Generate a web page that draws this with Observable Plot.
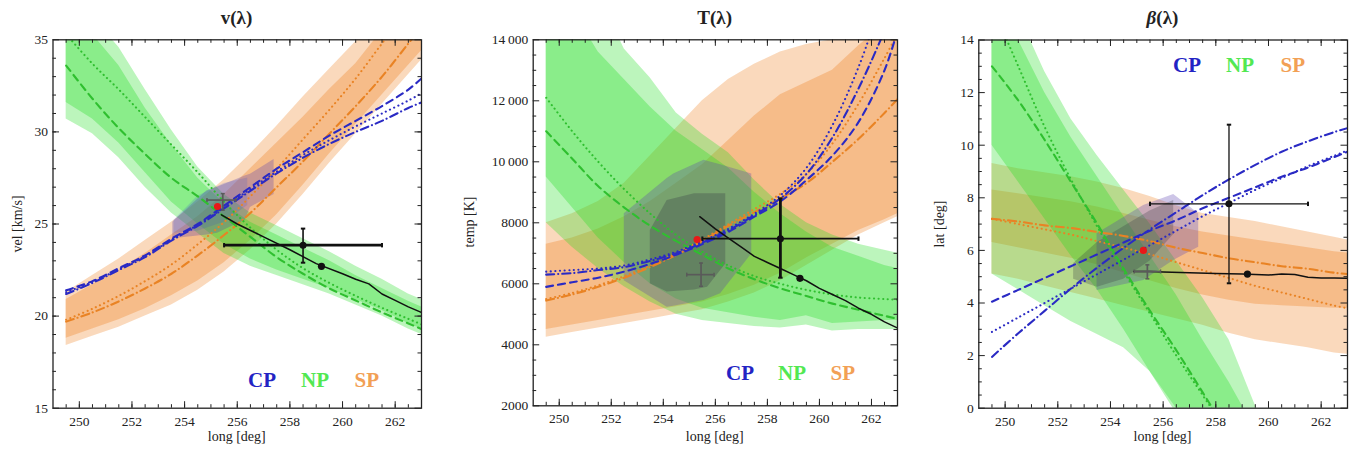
<!DOCTYPE html>
<html><head><meta charset="utf-8">
<script src="https://cdn.jsdelivr.net/npm/d3@7"></script>
<script src="https://cdn.jsdelivr.net/npm/@observablehq/plot@0.6"></script>
<style>
body{margin:0;background:#fff;}
#root{position:relative;width:1362px;height:462px;overflow:hidden;font-family:"Liberation Serif","Times New Roman",Tinos,"DejaVu Serif","Noto Serif",serif;color:#222;background:#fff;}
.panel{position:absolute;top:0;}
.t{position:absolute;white-space:nowrap;text-align:center;}
.title{font-weight:bold;font-size:19px;line-height:24px;top:5px;}
.xl{font-size:14px;line-height:18px;}
.yl{font-size:14px;line-height:18px;transform:rotate(-90deg);}
.lg{font-weight:bold;font-size:21px;line-height:24px;}
</style></head><body><div id="root"></div>
<script>
// ---------- shared x grid and ticks ----------
const longGrid = [249.5,250.5,251.5,252.5,253.5,254.5,255.5,256.5,257.5,258.5,259.5,260.5,261.5,262.5,263];
const longMajorTicks = [250,252,254,256,258,260,262];
const longMinorTicks = [249.5,250,250.5,251,251.5,252,252.5,253,253.5,254,254.5,255,255.5,256,256.5,257,257.5,258,258.5,259,259.5,260,260.5,261,261.5,262,262.5];

// ---------- v(lambda) ----------
const vMajorTicks = [15,20,25,30,35];
const vMinorTicks = [16,17,18,19,20,21,22,23,24,25,26,27,28,29,30,31,32,33,34];
const vSPOuterLo = [18.4,18.9,19.4,20.0,20.6,21.4,22.4,23.6,25.0,26.6,28.3,29.9,31.5,33.1,33.9];
const vSPOuterHi = [21.3,22.2,23.1,24.1,25.1,26.2,27.4,28.8,30.3,31.9,33.4,34.9,36.5,38.0,39.0];
const vSPInnerLo = [18.8,19.3,19.8,20.4,21.1,21.9,22.9,24.1,25.5,27.1,28.8,30.4,32.0,33.6,34.4];
const vSPInnerHi = [20.9,21.7,22.5,23.4,24.4,25.4,26.6,28.0,29.4,30.8,32.3,33.7,35.5,37.0,38.0];
const vNPOuterLo = [30.7,29.9,28.6,27.0,25.6,24.5,23.4,22.7,22.2,21.7,21.2,20.6,20.0,19.3,19.0];
const vNPOuterHi = [37.5,36.2,34.6,32.3,30.1,28.1,26.6,25.6,24.9,24.2,23.5,22.7,22.0,21.2,20.9];
const vNPInnerLo = [31.6,30.7,29.4,27.8,26.2,25.0,23.9,23.1,22.5,22.0,21.5,20.9,20.3,19.6,19.3];
const vNPInnerHi = [36.8,35.3,33.6,31.3,29.3,27.5,26.1,25.1,24.4,23.7,23.0,22.2,21.5,20.8,20.5];
const vCPDash    = [21.4,21.9,22.6,23.3,24.2,25.0,26.0,27.0,28.0,28.9,29.8,30.6,31.4,32.3,32.9];
const vCPDot     = [21.3,21.85,22.55,23.25,24.15,24.95,25.9,26.9,27.85,28.75,29.55,30.3,31.0,31.7,32.1];
const vCPDotDash = [21.2,21.8,22.5,23.2,24.1,24.9,25.85,26.8,27.75,28.6,29.35,30.0,30.6,31.3,31.6];
const vNPDash    = [33.6,31.8,30.2,28.8,27.5,26.5,25.4,24.3,23.2,22.3,21.5,20.85,20.2,19.6,19.3];
const vNPDot     = [35.3,33.7,32.3,30.8,29.3,27.8,26.2,24.8,23.6,22.6,21.8,21.1,20.45,19.85,19.55];
const vSPDotDash = [19.7,20.2,20.8,21.5,22.3,23.3,24.4,25.6,27.0,28.4,29.9,31.4,33.0,34.8,35.7];
const vSPDot     = [19.8,20.4,21.1,21.9,22.8,23.9,25.1,26.5,28.0,29.6,31.2,32.9,34.8,36.7,37.7];
const vCPRegionX  = [253.55,254.85,255.25,256.3,256.5,257.4];
const vCPRegionLo = [24.2,24.4,24.5,25.2,25.9,26.6];
const vCPRegionHi = [25.1,26.8,27.0,27.6,27.7,28.5];
const vCPCoreX  = [253.6,254.5,255.5,256.4];
const vCPCoreLo = [24.5,24.6,25.1,26.0];
const vCPCoreHi = [25.2,26.5,27.2,27.5];
const vBlackX = [255.4,256,257,258,259,260,260.5,261,261.5,262,262.5,263];
const vBlackY = [25.5,25.0,24.3,23.6,22.85,22.3,22.0,21.75,21.2,20.85,20.5,20.2];
const vError = {x:258.5, y:23.85, xlo:255.5, xhi:261.5, ylo:22.9, yhi:24.75};
const vCross = {x:255.45, y:26.3, xlo:254.85, xhi:255.95, ylo:25.75, yhi:26.65};
const vRed = {x:255.25, y:25.95};
const vDot = {x:259.2, y:22.7};

// ---------- T(lambda) ----------
const tMajorTicks = [2000,4000,6000,8000,10000,12000,14000];
const tMinorTicks = [2500,3000,3500,4500,5000,5500,6500,7000,7500,8500,9000,9500,10500,11000,11500,12500,13000,13500];
const tSPOuterLo = [4250,4400,4550,4700,4850,5000,5150,5400,5700,6100,6600,7100,7600,8000,8200];
const tSPOuterHi = [8000,8300,8700,9300,10200,11100,12000,12700,13200,13600,13850,14000,14300,14800,15000];
const tSPInnerLo = [4500,4650,4800,4950,5100,5250,5400,5650,5950,6350,6850,7300,7750,8100,8300];
const tSPInnerHi = [7300,7500,7800,8200,8700,9300,9900,10700,11500,12200,12600,13000,13800,14500,15000];
const tNPOuterLo = [8000,7200,6500,5900,5400,5000,4800,4700,4600,4550,4650,4450,4500,4500,4500];
const tNPOuterHi = [16000,16000,15500,13700,12750,11600,10900,10300,9400,8600,8000,7600,7300,7100,7000];
const tNPInnerLo = [9500,8500,7500,6700,6000,5500,5200,5050,4900,4800,4950,4700,4750,4800,4800];
const tNPInnerHi = [15500,15000,13600,12700,11800,11000,10400,9800,9000,8300,7700,7200,6900,6600,6500];
const tCPDash    = [5900,6050,6200,6400,6650,6950,7300,7700,8200,8700,9400,10200,11300,13000,14300];
const tCPDot     = [6400,6450,6500,6600,6800,7050,7400,7800,8300,8900,9800,11200,13100,15500,16500];
const tCPDotDash = [6300,6350,6450,6550,6750,7000,7350,7750,8250,8800,9600,10800,12400,14300,15400];
const tNPDash    = [11000,10100,9200,8500,7900,7400,6950,6500,6150,5850,5600,5350,5150,4950,4850];
const tNPDot     = [12100,11000,10000,9100,8300,7600,7050,6600,6250,6000,5800,5650,5550,5500,5480];
const tSPDotDash = [5450,5650,5900,6200,6550,6950,7400,7900,8350,8800,9300,10000,10750,11600,12050];
const tSPDot     = [5500,5700,5950,6250,6600,7000,7450,7950,8450,8950,9600,10600,11900,13400,14200];
const tCPRegionX  = [252.5,254.15,254.4,255.56,256.2,257.4];
const tCPRegionLo = [6100,5230,5260,5450,5670,6980];
const tCPRegionHi = [8300,9450,9600,10050,9900,9600];
const tCPCoreX  = [253.5,254.15,255.2,255.7,256.4];
const tCPCoreLo = [6000,5730,5800,5890,6650];
const tCPCoreHi = [7750,8730,8950,8950,8950];
const tBlackX = [255.4,256,256.5,257,257.5,258,258.5,259,259.5,260,260.5,261,261.5,262,262.5,263];
const tBlackY = [8200,7800,7500,7200,6900,6700,6500,6300,6100,5850,5650,5450,5200,5000,4750,4550];
const tError = {x:258.5, y:7480, xlo:255.5, xhi:261.5, ylo:6200, yhi:8800};
const tCross = {x:255.45, y:6300, xlo:254.9, xhi:255.95, ylo:5920, yhi:6680};
const tRed = {x:255.3, y:7450};
const tDot = {x:259.25, y:6180};

// ---------- beta(lambda) ----------
const bMajorTicks = [0,2,4,6,8,10,12,14];
const bMinorTicks = [0.5,1,1.5,2.5,3,3.5,4.5,5,5.5,6.5,7,7.5,8.5,9,9.5,10.5,11,11.5,12.5,13,13.5];
const bSPOuterLo = [5.1,4.9,4.65,4.4,4.15,3.9,3.65,3.4,3.15,2.85,2.6,2.45,2.3,2.1,2.05];
const bSPOuterHi = [9.3,9.1,8.95,8.8,8.6,8.35,8.05,7.7,7.4,7.25,7.1,6.9,6.7,6.5,6.4];
const bSPInnerLo = [6.3,6.1,5.9,5.7,5.45,5.15,4.85,4.55,4.3,4.1,3.95,3.9,3.85,3.8,3.8];
const bSPInnerHi = [8.3,8.15,8.0,7.85,7.65,7.4,7.15,6.9,6.7,6.55,6.4,6.25,6.1,5.95,5.9];
const bNPOuterLo = [5.1,4.5,3.9,3.3,2.8,2.3,1.4,0,-1.5,-3,-4.5,-6,-7.5,-9,-10];
const bNPOuterHi = [16,15.0,12.8,11.0,9.6,8.3,7.0,5.6,4.2,2.6,0.1,-2,-4,-6,-7];
const bNPInnerLo = [10.0,8.6,7.2,5.8,4.5,3.0,1.4,-0.2,-2,-3.5,-5,-6.5,-8,-9.5,-10];
const bNPInnerHi = [15.5,14.0,12.0,10.3,8.8,7.3,5.8,4.3,2.6,1.0,-0.8,-3,-5,-7,-8];
const bCPDash    = [4.05,4.5,4.95,5.4,5.85,6.3,6.75,7.15,7.6,8.0,8.4,8.8,9.15,9.55,9.75];
const bCPDot     = [2.9,3.45,4.0,4.55,5.1,5.65,6.2,6.75,7.3,7.8,8.3,8.75,9.2,9.6,9.8];
const bCPDotDash = [1.95,2.85,3.7,4.55,5.35,6.1,6.8,7.45,8.1,8.7,9.25,9.75,10.15,10.5,10.65];
const bNPDash    = [13.0,11.7,10.2,8.6,7.0,5.3,3.7,2.2,0.6,-1.0,-2.6,-4.2,-5.8,-7.4,-8.2];
const bNPDot     = [15.3,13.0,10.7,8.7,6.9,5.2,3.6,2.0,0.5,-1.0,-2.5,-4.0,-5.5,-7.0,-7.8];
const bSPDotDash = [7.2,7.1,6.95,6.85,6.7,6.55,6.35,6.1,5.9,5.7,5.55,5.4,5.3,5.15,5.1];
const bSPDot     = [7.2,7.0,6.8,6.6,6.35,6.1,5.85,5.55,5.25,4.95,4.65,4.4,4.15,3.9,3.8];
const bCPRegionX  = [253.49,255.26,256.4,257.35];
const bCPRegionLo = [4.48,4.86,5.62,6.12];
const bCPRegionHi = [6.63,7.71,8.13,7.39];
const bCPCoreX  = [252.6,253.5,254.5,255.5,256.4];
const bCPCoreLo = [4.9,4.6,4.9,5.6,6.6];
const bCPCoreHi = [5.5,6.3,6.9,7.5,7.9];
const bBlackX = [254.88,255.5,256,257,258,259,259.5,260,260.5,261,261.5,262,262.5,263];
const bBlackY = [5.2,5.2,5.18,5.15,5.12,5.1,5.08,5.06,5.1,5.08,4.98,4.95,4.95,4.94];
const bError = {x:258.5, y:7.77, xlo:255.5, xhi:261.5, ylo:4.75, yhi:10.78};
const bCross = {x:255.4, y:5.2, xlo:254.9, xhi:255.9, ylo:4.92, yhi:5.45};
const bRed = {x:255.25, y:6.0};
const bDot = {x:259.2, y:5.1};

// ---------- styling ----------
const SERIF = "'Liberation Serif', 'Times New Roman', Tinos, 'DejaVu Serif', 'Noto Serif', serif";
const CPc = "#2a2ac4", NPc = "#2fbf2f", SPc = "#e98324";
const NPFill = "#22dd22", SPFill = "#f08020", CPFill = "#5a3fb0";
const dashes = {dash:"7,5", dot:"0.1,4.5", dotdash:"8,4,0.1,4"};

const zip = (xs, ys) => xs.map((x, i) => ({x, y: ys[i]}));
const zipBand = (xs, lo, hi) => xs.map((x, i) => ({x, lo: lo[i], hi: hi[i]}));
const capV = {draw(ctx, size){ const h = Math.sqrt(size/Math.PI); ctx.moveTo(0,-h); ctx.lineTo(0,h); }};
const capH = {draw(ctx, size){ const h = Math.sqrt(size/Math.PI); ctx.moveTo(-h,0); ctx.lineTo(h,0); }};

function panel(c){
  const iw = c.width - c.ml - c.mr, ih = c.height - c.mt - c.mb;
  const marks = [];
  const band = (lo, hi, fill, op, xs = longGrid) =>
    marks.push(Plot.areaY(zipBand(xs, lo, hi), {x:"x", y1:"lo", y2:"hi", fill, fillOpacity:op, clip:true}));
  band(c.SP[0], c.SP[1], SPFill, 0.3);
  band(c.SP[2], c.SP[3], SPFill, 0.32);
  band(c.NP[0], c.NP[1], NPFill, 0.3);
  band(c.NP[2], c.NP[3], NPFill, 0.32);
  band(c.region[1], c.region[2], CPFill, 0.3, c.region[0]);
  band(c.core[1], c.core[2], c.coreFill, c.coreOp, c.core[0]);
  for (const l of c.lines)
    marks.push(Plot.line(zip(longGrid, l[0]), {x:"x", y:"y", stroke:l[1], strokeWidth:2.1,
      strokeDasharray:dashes[l[2]], strokeLinecap:"round", curve:"catmull-rom", clip:true}));
  marks.push(Plot.line(zip(c.black[0], c.black[1]), {x:"x", y:"y", stroke:"#111", strokeWidth:1.5, clip:true}));
  const g = c.cross;
  marks.push(Plot.ruleY([g], {x1:"xlo", x2:"xhi", y:"y", stroke:"#5a5a5a", strokeWidth:1.7}));
  marks.push(Plot.ruleX([g], {x:"x", y1:"ylo", y2:"yhi", stroke:"#5a5a5a", strokeWidth:1.7}));
  marks.push(Plot.dot([{x:g.xlo,y:g.y},{x:g.xhi,y:g.y}], {x:"x", y:"y", symbol:capV, r:2, stroke:"#5a5a5a", fill:"none", strokeWidth:1.5}));
  marks.push(Plot.dot([{x:g.x,y:g.ylo},{x:g.x,y:g.yhi}], {x:"x", y:"y", symbol:capH, r:2, stroke:"#5a5a5a", fill:"none", strokeWidth:1.5}));
  const e = c.err;
  marks.push(Plot.ruleY([e], {x1:"xlo", x2:"xhi", y:"y", stroke:"#111", strokeWidth:c.hw}));
  marks.push(Plot.ruleX([e], {x:"x", y1:"ylo", y2:"yhi", stroke:"#111", strokeWidth:c.vw}));
  marks.push(Plot.dot([{x:e.xlo,y:e.y},{x:e.xhi,y:e.y}], {x:"x", y:"y", symbol:capV, r:2.2, stroke:"#111", fill:"none", strokeWidth:2}));
  marks.push(Plot.dot([{x:e.x,y:e.ylo},{x:e.x,y:e.yhi}], {x:"x", y:"y", symbol:capH, r:2.2, stroke:"#111", fill:"none", strokeWidth:2}));
  marks.push(Plot.dot([e], {x:"x", y:"y", r:3.5, fill:"#111"}));
  marks.push(Plot.dot([c.dot], {x:"x", y:"y", r:3.6, fill:"#111"}));
  marks.push(Plot.dot([c.red], {x:"x", y:"y", r:3.6, fill:"#e81818"}));
  const tk = "#222";
  marks.push(Plot.ruleX(longMinorTicks, {x:d=>d, insetTop:ih-3.5, stroke:tk}));
  marks.push(Plot.ruleX(longMajorTicks, {x:d=>d, insetTop:ih-6.5, stroke:tk}));
  marks.push(Plot.ruleX(longMinorTicks, {x:d=>d, insetBottom:ih-3.5, stroke:tk}));
  marks.push(Plot.ruleX(longMajorTicks, {x:d=>d, insetBottom:ih-6.5, stroke:tk}));
  marks.push(Plot.ruleY(c.yMinor, {y:d=>d, insetRight:iw-3.5, stroke:tk}));
  marks.push(Plot.ruleY(c.yMajor, {y:d=>d, insetRight:iw-6.5, stroke:tk}));
  marks.push(Plot.ruleY(c.yMinor, {y:d=>d, insetLeft:iw-3.5, stroke:tk}));
  marks.push(Plot.ruleY(c.yMajor, {y:d=>d, insetLeft:iw-6.5, stroke:tk}));
  marks.push(Plot.frame({stroke:"#222", strokeWidth:1.3}));
  return Plot.plot({
    width:c.width, height:c.height,
    marginLeft:c.ml, marginRight:c.mr, marginTop:c.mt, marginBottom:c.mb,
    style:{fontFamily:SERIF, fontSize:"13.5px", color:"#222", background:"transparent", overflow:"visible"},
    x:{domain:[249,263], ticks:longMajorTicks, tickSize:0, tickPadding:8, tickFormat:d=>String(d), label:null},
    y:{domain:c.yDomain, ticks:c.yMajor, tickSize:0, tickPadding:5, tickFormat:c.yFormat, label:null},
    marks
  });
}

const panels = [
  {left:0, width:440, height:462, ml:52.5, mr:19, mt:39.3, mb:54.3, hw:2.8, vw:1.6, coreFill:"#3050d0", coreOp:0.18,
   yDomain:[15,35], yMajor:vMajorTicks, yMinor:vMinorTicks, yFormat:d=>String(d),
   SP:[vSPOuterLo,vSPOuterHi,vSPInnerLo,vSPInnerHi], NP:[vNPOuterLo,vNPOuterHi,vNPInnerLo,vNPInnerHi],
   region:[vCPRegionX,vCPRegionLo,vCPRegionHi], core:[vCPCoreX,vCPCoreLo,vCPCoreHi],
   lines:[[vSPDotDash,SPc,"dotdash"],[vSPDot,SPc,"dot"],[vNPDash,NPc,"dash"],[vNPDot,NPc,"dot"],
          [vCPDash,CPc,"dash"],[vCPDot,CPc,"dot"],[vCPDotDash,CPc,"dotdash"]],
   black:[vBlackX,vBlackY], err:vError, cross:vCross, red:vRed, dot:vDot},
  {left:450, width:455, height:462, ml:82.7, mr:8, mt:39.3, mb:56.7, hw:1.6, vw:2.8, coreFill:"#363844", coreOp:0.3,
   yDomain:[2000,14000], yMajor:tMajorTicks, yMinor:tMinorTicks,
   yFormat:d=> d>=10000 ? Math.floor(d/1000)+"\u2009"+String(d%1000).padStart(3,"0") : String(d),
   SP:[tSPOuterLo,tSPOuterHi,tSPInnerLo,tSPInnerHi], NP:[tNPOuterLo,tNPOuterHi,tNPInnerLo,tNPInnerHi],
   region:[tCPRegionX,tCPRegionLo,tCPRegionHi], core:[tCPCoreX,tCPCoreLo,tCPCoreHi],
   lines:[[tSPDotDash,SPc,"dotdash"],[tSPDot,SPc,"dot"],[tNPDash,NPc,"dash"],[tNPDot,NPc,"dot"],
          [tCPDash,CPc,"dash"],[tCPDot,CPc,"dot"],[tCPDotDash,CPc,"dotdash"]],
   black:[tBlackX,tBlackY], err:tError, cross:tCross, red:tRed, dot:tDot},
  {left:910, width:452, height:462, ml:68.3, mr:15, mt:39.5, mb:54.3, hw:1.3, vw:1.3, coreFill:"#363844", coreOp:0.28,
   yDomain:[0,14], yMajor:bMajorTicks, yMinor:bMinorTicks, yFormat:d=>String(d),
   SP:[bSPOuterLo,bSPOuterHi,bSPInnerLo,bSPInnerHi], NP:[bNPOuterLo,bNPOuterHi,bNPInnerLo,bNPInnerHi],
   region:[bCPRegionX,bCPRegionLo,bCPRegionHi], core:[bCPCoreX,bCPCoreLo,bCPCoreHi],
   lines:[[bSPDotDash,SPc,"dotdash"],[bSPDot,SPc,"dot"],[bNPDash,NPc,"dash"],[bNPDot,NPc,"dot"],
          [bCPDash,CPc,"dash"],[bCPDot,CPc,"dot"],[bCPDotDash,CPc,"dotdash"]],
   black:[bBlackX,bBlackY], err:bError, cross:bCross, red:bRed, dot:bDot}
];

const root = document.getElementById("root");
for (const p of panels){
  const d = document.createElement("div");
  d.className = "panel"; d.style.left = p.left + "px";
  d.appendChild(panel(p));
  root.appendChild(d);
}

// ---------- text: titles, axis labels, legends ----------
const titles = [["v(λ)", 236.8], ["T(λ)", 714.8], ["<i>β</i>(λ)", 1162.6]];
const yLabels = [["vel [km/s]", 17, 223.5], ["temp [K]", 470, 222], ["lat [deg]", 939, 223.5]];
const legendNames = ["CP", "NP", "SP"];
const legendColors = ["#2323c4", "#52e852", "#f2a055"];
const legendPos = [[[262,380],[315,380],[367,380]], [[740,373],[792,373],[843,373]], [[1187,65],[1240,65],[1293,65]]];

function addText(cls, html, cx, cy, extra){
  const el = document.createElement("div");
  el.className = "t " + cls; el.innerHTML = html;
  if (extra) Object.assign(el.style, extra);
  root.appendChild(el);
  const w = el.offsetWidth, h = el.offsetHeight;
  el.style.left = (cx - w/2) + "px";
  el.style.top = (cy - h/2) + "px";
  return el;
}
titles.forEach(([t, cx]) => addText("title", t, cx, 17.5));
titles.forEach(([, cx]) => addText("xl", "long [deg]", cx, 437));
yLabels.forEach(([t, cx, cy]) => addText("yl", t, cx, cy));
legendPos.forEach(pos => pos.forEach(([cx, cy], i) => addText("lg", legendNames[i], cx, cy, {color: legendColors[i]})));
</script></body></html>
